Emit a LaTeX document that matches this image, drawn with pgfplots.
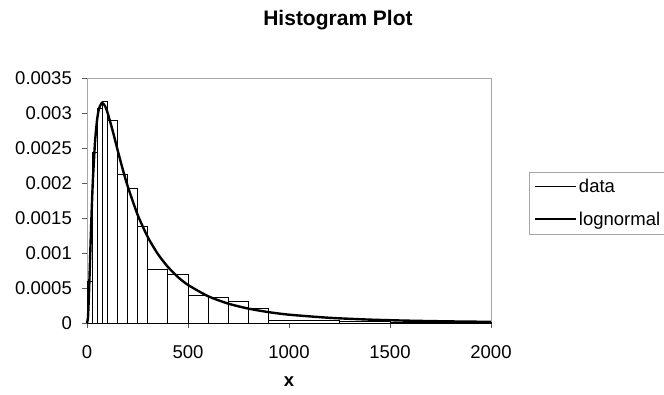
\documentclass[border=0pt]{standalone}
\usepackage{fontspec}
\setmainfont{Liberation Sans}
\usepackage{pgfplots}
\pgfplotsset{compat=1.18}
\begin{document}
\begin{tikzpicture}
\useasboundingbox (0pt,0pt) rectangle (664pt,394pt);
\node[anchor=base, font=\fontsize{21}{23}\selectfont\bfseries] at (338pt,368pt) {Histogram Plot};
\begin{axis}[
  at={(87pt,71pt)}, anchor=south west,
  scale only axis, width=404pt, height=245pt,
  xmin=0, xmax=2000, ymin=0, ymax=0.0035,
  scaled y ticks=false, scaled x ticks=false,
  xtick={0,500,1000,1500,2000},
  xticklabels={0,500,1000,1500,2000},
  ytick={0,0.0005,0.001,0.0015,0.002,0.0025,0.003,0.0035},
  yticklabels={0,0.0005,0.001,0.0015,0.002,0.0025,0.003,0.0035},
  tick align=outside, xtick pos=bottom, ytick pos=left,
  major tick length=5pt,
  axis line style={draw=gray!70},
  every tick/.style={gray!70!black, line width=0.6pt},
  ticklabel style={font=\fontsize{18.5}{20}\selectfont},
  yticklabel style={anchor=east, inner sep=0pt, xshift=-10pt},
  xticklabel style={anchor=north, inner sep=0pt, yshift=-17pt},
  xlabel={\bfseries x},
  xlabel style={at={(axis description cs:0.5,-0.2408)}, anchor=center, font=\fontsize{18.5}{20}\selectfont},
  legend style={at={(axis description cs:1.095,0.6176)}, anchor=north west,
    draw=gray!70, font=\fontsize{18.5}{20}\selectfont, inner xsep=4pt, inner ysep=5pt,
    row sep=14pt, cells={anchor=west}},
  legend image code/.code={\draw[#1] (0pt,0pt) -- (41pt,0pt);},
  clip=false,
]
\addplot[ybar interval, draw=black, line width=0.7pt, fill=none, forget plot] coordinates {
(0,0.0006) (25,0.00244) (50,0.00307) (75,0.00316) (100,0.0029) (150,0.00213)
(200,0.00193) (250,0.00138) (300,0.00076) (400,0.0007) (500,0.00039) (600,0.00037)
(700,0.00031) (800,0.00021) (900,0.00004) (1250,0.00003) (1500,0.00001) (2000,0)
};
\addlegendimage{black, line width=0.7pt}
\addlegendentry{data}
\addplot[black, line width=2.4pt, smooth, tension=0.4] coordinates {
(0,0) (5,0.0000885) (10,0.000436) (15,0.000891) (20,0.001344) (25,0.001749)
(30,0.002091) (40,0.002596) (50,0.002904) (60,0.003070) (75,0.003146)
(90,0.003095) (100,0.003021) (125,0.002769) (150,0.002488) (175,0.002216)
(200,0.001967) (250,0.001551) (300,0.001232) (350,0.000989) (400,0.000802)
(450,0.000657) (500,0.000544) (600,0.000382) (700,0.000276) (800,0.000205)
(900,0.000155) (1000,0.000119) (1200,0.0000742) (1400,0.0000483)
(1600,0.0000327) (1800,0.0000229) (2000,0.0000164)
};
\addlegendentry{lognormal}
\end{axis}
\end{tikzpicture}
\end{document}
